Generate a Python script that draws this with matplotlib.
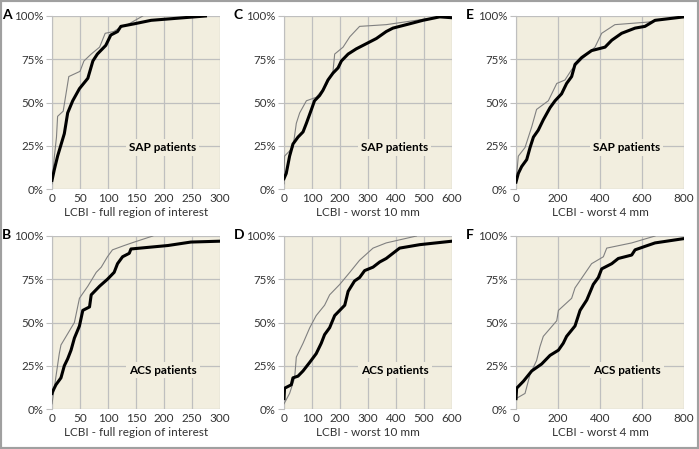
import matplotlib
import matplotlib.pyplot as plt
from matplotlib.patches import Rectangle
from matplotlib.ticker import FuncFormatter

matplotlib.use("Agg")

# ---- data (x = LCBI, y = cumulative %) ----
a_thick_x = [0, 4, 10, 22, 28, 37, 49, 64, 73, 81, 96, 105, 117, 123, 147, 177, 274]
a_thick_y = [5, 11, 19, 32, 44, 51, 58, 64, 74, 78, 83, 89, 91, 94, 95.5, 97.5, 100]
a_thin_x = [0, 4, 8, 10, 20, 25, 30, 50, 57, 70, 85, 95, 110, 120, 135, 162]
a_thin_y = [3, 18, 30, 42, 45, 55, 65, 68, 74, 78, 82, 90, 91, 93, 95, 100]

b_thick_x = [0, 1, 7, 16, 22, 28, 34, 40, 49, 55, 67, 70, 85, 99, 111, 117, 126, 138, 141, 207, 248, 300]
b_thick_y = [9, 10, 14, 18, 25, 29, 34, 41, 48, 57, 59, 66, 71, 75, 79, 84, 88, 90, 92.5, 94.5, 96.5, 97]
b_thin_x = [0, 4, 13, 16, 40, 49, 64, 79, 88, 99, 108, 129, 147, 180]
b_thin_y = [3, 12, 32, 37, 50, 64, 71, 79, 82, 88, 92, 94.5, 96.5, 100]

c_thick_x = [0, 8, 20, 32, 50, 68, 80, 98, 109, 127, 139, 157, 175, 193, 205, 229, 258, 294, 330, 365, 389, 449, 496, 556, 600]
c_thick_y = [6, 9, 19, 26, 30, 33, 38, 46, 51, 54, 57, 63, 67, 70, 74, 78, 81, 84, 87, 91, 93, 95.5, 97.5, 99.5, 99]
c_thin_x = [0, 2, 32, 44, 56, 80, 115, 151, 175, 181, 211, 235, 270, 365, 472, 580]
c_thin_y = [3, 19, 24, 38, 44, 51, 53, 60, 68, 78, 82, 88, 94, 95, 97.5, 100]

d_thick_x = [0, 2, 26, 32, 50, 68, 92, 115, 133, 145, 163, 181, 199, 217, 229, 252, 270, 288, 318, 342, 365, 389, 413, 485, 600]
d_thick_y = [6, 12, 14, 18, 19, 22, 27, 32, 38, 43, 47, 54, 57, 60, 68, 74, 76, 80, 82, 85, 87, 90, 93, 95, 97]
d_thin_x = [0, 20, 38, 44, 68, 92, 115, 145, 163, 199, 235, 270, 318, 365, 473]
d_thin_y = [3, 9, 18, 30, 38, 47, 54, 60, 66, 72, 79, 86, 93, 96, 100]

e_thick_x = [0, 11, 27, 51, 67, 83, 106, 130, 162, 186, 217, 241, 265, 281, 313, 360, 424, 456, 503, 567, 614, 662, 800]
e_thick_y = [4, 9, 13, 17, 24, 30, 34, 40, 47, 51, 55, 61, 65, 72, 76, 80, 82, 86, 90, 93, 94, 97.5, 99.5]
e_thin_x = [0, 11, 43, 75, 98, 154, 194, 233, 265, 313, 376, 408, 471, 630, 773]
e_thin_y = [4, 19, 24, 36, 46, 51, 61, 63, 69, 75, 82, 90, 95, 96.5, 99.5]

f_thick_x = [0, 3, 35, 75, 122, 162, 202, 225, 241, 281, 305, 337, 368, 392, 408, 456, 487, 551, 567, 614, 662, 800]
f_thick_y = [6, 12, 16, 22, 26, 31, 34, 38, 42, 48, 57, 63, 72, 76, 81, 84, 87, 89, 92, 94, 96, 98.5]
f_thin_x = [0, 43, 67, 98, 114, 130, 194, 202, 265, 281, 360, 416, 432, 551, 662]
f_thin_y = [6, 9, 20, 28, 36, 42, 51, 57, 64, 70, 84, 88, 93, 96, 100]

panel_letters = ["A", "B", "C", "D", "E", "F"]
x_labels = ["LCBI - full region of interest", "LCBI - worst 10 mm", "LCBI - worst 4 mm"]
x_max = [300, 600, 800]
x_step = [50, 100, 200]
group_labels = ["SAP patients", "ACS patients"]

panels = [
    (a_thick_x, a_thick_y, a_thin_x, a_thin_y),
    (b_thick_x, b_thick_y, b_thin_x, b_thin_y),
    (c_thick_x, c_thick_y, c_thin_x, c_thin_y),
    (d_thick_x, d_thick_y, d_thin_x, d_thin_y),
    (e_thick_x, e_thick_y, e_thin_x, e_thin_y),
    (f_thick_x, f_thick_y, f_thin_x, f_thin_y),
]

BG = "#F2EEDF"
GRID = "#BFBFBF"
W, H = 699, 449

plt.rcParams["font.family"] = ["Lato", "DejaVu Sans"]

fig = plt.figure(figsize=(W / 100, H / 100), dpi=100)

lefts = [52, 284, 516]
tops = [16, 236]
w = 168 / W
h = 173 / H

for i, (tx, ty, gx, gy) in enumerate(panels):
    col = i // 2
    row = i % 2
    ax = fig.add_axes([lefts[col] / W, 1 - (tops[row] + 173) / H, w, h])
    ax.set_facecolor(BG)
    ax.plot(gx, gy, color="#808080", linewidth=0.8, zorder=3)
    ax.plot(tx, ty, color="black", linewidth=2.2, zorder=4)
    ax.set_xlim(0, x_max[col])
    ax.set_ylim(0, 100)
    ax.set_xticks(range(0, x_max[col] + 1, x_step[col]))
    ax.set_yticks([0, 25, 50, 75, 100])
    ax.yaxis.set_major_formatter(FuncFormatter(lambda v, p: f"{int(v)}%"))
    ax.grid(True, color=GRID, linewidth=0.9, zorder=1)
    ax.set_axisbelow(True)
    for s in ["top", "right", "bottom"]:
        ax.spines[s].set_visible(False)
    ax.spines["left"].set_color(GRID)
    ax.tick_params(axis="y", length=4, color=GRID, labelsize=8.3, labelcolor="#333333", pad=2)
    ax.tick_params(axis="x", length=0, labelsize=8.5, labelcolor="#333333", pad=3)
    ax.set_xlabel(x_labels[col], fontsize=8.5, color="#333333", labelpad=2)
    ax.text(0.66, 0.24 if row == 0 else 0.225, group_labels[row], transform=ax.transAxes,
            ha="center", va="center", fontsize=8.5, fontweight="bold", color="black",
            bbox=dict(facecolor=BG, edgecolor="none", pad=2), zorder=5)
    # panel letter, left of the 100% label
    fig.text((lefts[col] - 50) / W, 1 - (tops[row] - 1) / H, panel_letters[i],
             ha="left", va="center", fontsize=10, fontweight="bold", color="black")

fig.patches.append(Rectangle((0, 0), 1, 1, transform=fig.transFigure, fill=False,
                             edgecolor="#A0A0A0", linewidth=3))

fig.savefig("out.png", dpi=100)
